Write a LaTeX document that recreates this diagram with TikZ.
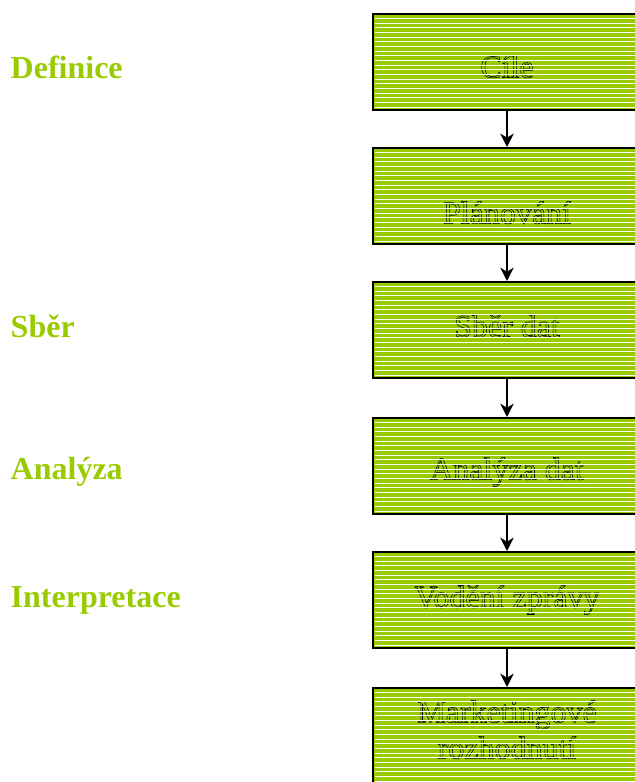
\documentclass[tikz,border=0pt]{standalone}
\usepackage{fontspec}
\setmainfont{Liberation Serif}
\usetikzlibrary{arrows.meta}
\definecolor{leaf}{HTML}{99CC00}
% outlined lettering: green fill, thin black stroke
\newcommand{\outlined}[1]{\special{pdf:literal direct 0 G 2 Tr 0.4 w}#1\special{pdf:literal direct 0 Tr}}
% shift a box's content vertically while keeping its size
\newcommand{\nudge}[2]{\raisebox{#1}[\height][\depth]{#2}}
\tikzset{
  stagebox/.style={draw=black, line width=1.5pt, fill=leaf,
    minimum width=201pt, minimum height=72pt, inner sep=0pt,
    align=center, font=\fontsize{24}{27}\selectfont, text=leaf},
  phase/.style={anchor=west, text=leaf, font=\fontsize{24}{28}\selectfont\bfseries},
  flow/.style={-{Stealth[length=10pt,width=10pt,inset=3pt]}, line width=1.5pt, black},
  stripe/.style={white, line width=0.75pt}
}
\begin{document}
\begin{tikzpicture}[x=0.75pt,y=-0.75pt]
  \useasboundingbox (0,0) rectangle (635,782);
  \clip (0,0) rectangle (635,782);

  % process stages
  \node[stagebox] (b1) at (507,62)  {\nudge{-3.5pt}{\outlined{Cíle}}};
  \node[stagebox] (b2) at (507,196) {\nudge{-12.5pt}{\outlined{Plánování}}};
  \node[stagebox] (b3) at (507,330) {\nudge{3pt}{\outlined{Sběr dat}}};
  \node[stagebox] (b4) at (507,466) {\nudge{-4.5pt}{\outlined{Analýza dat}}};
  \node[stagebox] (b5) at (507,600) {\outlined{Vodění zprávy}};
  \node[stagebox] (b6) at (507,736) {\nudge{2pt}{\begin{tabular}{@{}c@{}}\outlined{Marketingové}\\\outlined{rozhodnutí}\end{tabular}}};

  % horizontal white hatching over each stage
  \foreach \t in {14,148,282,418,552,688} {
    \begin{scope}
      \clip (375,\t+2) rectangle (639,\t+94);
      \foreach \k in {0,...,20}
        \draw[stripe] (370,\t+4.5+4.67*\k) -- (640,\t+4.5+4.67*\k);
    \end{scope}
  }

  % connectors
  \draw[flow] (b1) -- (b2);
  \draw[flow] (b2) -- (b3);
  \draw[flow] (b3) -- (b4);
  \draw[flow] (b4) -- (b5);
  \draw[flow] (b5) -- (b6);

  % phase labels
  \node[phase] (p1) at (6,67)  {Definice};
  \node[phase] (p2) at (6,326) {Sběr};
  \node[phase] (p3) at (6,472) {Analýza};
  \node[phase] (p4) at (6,600) {Interpretace};
\end{tikzpicture}
\end{document}
